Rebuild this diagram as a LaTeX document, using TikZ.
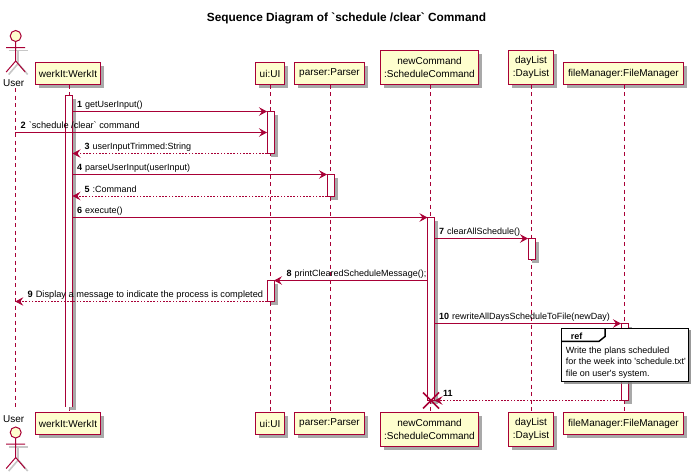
\documentclass[tikz,border=0pt]{standalone}
\usepackage{fontspec}
\setmainfont{Liberation Sans}[Ligatures=TeXOff]
\usetikzlibrary{arrows.meta,shadows}
\definecolor{pumlred}{HTML}{A80036}
\definecolor{pumlfill}{HTML}{FEFECE}
\tikzset{
  softshadow/.style={drop shadow={shadow xshift=3.5pt,shadow yshift=-3.5pt,fill=black!45,opacity=.75}},
  part/.style={draw=pumlred,fill=pumlfill,line width=1pt,inner sep=0pt,outer sep=0pt,align=center,
    font=\fontsize{10}{12.3}\selectfont,softshadow},
  act/.style={fill=white,inner sep=0pt,outer sep=0pt,minimum width=7pt,softshadow},
  actb/.style={act,draw=pumlred,line width=1pt},
  life/.style={draw=pumlred,line width=.8pt,dash pattern=on 4pt off 3.5pt},
  msg/.style={draw=pumlred,line width=.9pt,-{Stealth[length=8pt,width=8.5pt,inset=3pt,fill=pumlred]}},
  ret/.style={msg,dash pattern=on 1.6pt off 1.6pt},
  mlab/.style={anchor=base west,inner sep=0pt,font=\fontsize{9}{11}\selectfont},
  actorlab/.style={inner sep=0pt,font=\fontsize{10}{12}\selectfont},
  actor/.pic={
    \begin{scope}[shift={(2.5,-2.5)},line width=1.6pt]
      \draw[black!22] (0,-12) -- (0,-25); \draw[black!22] (-9.5,-12) -- (9.5,-12);
      \draw[black!22] (0,-25) -- (-9.5,-36); \draw[black!22] (0,-25) -- (9.5,-36);
    \end{scope}
    \draw[pumlred,fill=pumlfill,line width=1pt] (0,0) circle[radius=5.5];
    \draw[pumlred,line width=1pt] (0,-5.5) -- (0,-25) (-9.5,-11.7) -- (9.5,-11.7)
      (0,-25) -- (-9.5,-36) (0,-25) -- (9.5,-36);
  },
}
\begin{document}
\begin{tikzpicture}[x=1pt,y=-1pt]
\useasboundingbox (0,0) rectangle (692,471);
% message rows
\coordinate (y1) at (0,111.5);
\coordinate (y2) at (0,132.5);
\coordinate (y3) at (0,153.5);
\coordinate (y4) at (0,174.5);
\coordinate (y5) at (0,196);
\coordinate (y6) at (0,217.5);
\coordinate (y7) at (0,238.5);
\coordinate (y8) at (0,280.5);
\coordinate (y9) at (0,301.5);
\coordinate (y10) at (0,323.5);
\coordinate (y11) at (0,400.5);
% lifeline columns
\coordinate (lU) at (15.3,0);
\coordinate (lW) at (69.5,0);
\coordinate (lI) at (270.5,0);
\coordinate (lP) at (330.5,0);
\coordinate (lN) at (430.5,0);
\coordinate (lD) at (531.5,0);
\coordinate (lF) at (624.5,0);
\coordinate (uT) at (15.3,88);
\coordinate (uB) at (15.3,409);

\node[font=\fontsize{11.85}{14}\selectfont\bfseries,inner sep=0pt] (title) at (346.5,18) {Sequence Diagram of `schedule /clear` Command};

% participants top
\node[part,minimum width=65pt,minimum height=22pt] (wT) at (68,73.5) {werkIt:WerkIt};
\node[part,minimum width=29pt,minimum height=22pt] (iT) at (270,73.5) {ui:UI};
\node[part,minimum width=70pt,minimum height=22pt] (pT) at (329.5,73.5) {parser:Parser};
\node[part,minimum width=98pt,minimum height=34pt] (nT) at (429.5,67.5) {newCommand\\:ScheduleCommand};
\node[part,minimum width=45pt,minimum height=34pt] (dT) at (531,67.5) {dayList\\:DayList};
\node[part,minimum width=120pt,minimum height=22pt] (fT) at (623.5,73.5) {fileManager:FileManager};
% participants bottom
\node[part,minimum width=65pt,minimum height=22pt] (wB) at (68,423.5) {werkIt:WerkIt};
\node[part,minimum width=29pt,minimum height=22pt] (iB) at (270,423.5) {ui:UI};
\node[part,minimum width=70pt,minimum height=22pt] (pB) at (329.5,423.5) {parser:Parser};
\node[part,minimum width=98pt,minimum height=34pt] (nB) at (429.5,429.5) {newCommand\\:ScheduleCommand};
\node[part,minimum width=45pt,minimum height=34pt] (dB) at (531,429.5) {dayList\\:DayList};
\node[part,minimum width=120pt,minimum height=22pt] (fB) at (623.5,423.5) {fileManager:FileManager};

% actors
\pic[yscale=-1] at (15.7,36) {actor};
\node[actorlab] (uLT) at (13.6,83) {User};
\node[actorlab] (uLB) at (13.6,419) {User};
\pic[yscale=-1] at (15.7,432.5) {actor};

% lifelines
\draw[life] (uT) -- (uB);
\draw[life] (lW |- wT.south) -- (lW |- wB.north);
\draw[life] (lI |- iT.south) -- (lI |- iB.north);
\draw[life] (lP |- pT.south) -- (lP |- pB.north);
\draw[life] (lN |- nT.south) -- (lN |- nB.north);
\draw[life] (lD |- dT.south) -- (lD |- dB.north);
\draw[life] (lF |- fT.south) -- (lF |- fB.north);

% activations
\node[act,minimum height=311pt] (wA) at (69,251) {};
\draw[pumlred,line width=1pt] (wA.south west) -- (wA.north west) -- (wA.north east) -- (wA.south east);
\node[actb,minimum height=42pt] (iA1) at (270.5,132.5) {};
\node[actb,minimum height=22pt] (pA) at (330.5,185.5) {};
\node[actb,minimum height=182.5pt] (nA) at (431,308.75) {};
\node[actb,minimum height=21pt] (dA) at (531.5,249) {};
\node[actb,minimum height=21pt] (iA2) at (270.5,291) {};
\node[actb,minimum height=77pt] (fA) at (624.5,362) {};

% messages
\draw[msg] (wA.east |- y1) -- (iA1.west |- y1);
\draw[msg] (lU |- y2) -- (iA1.west |- y2);
\draw[ret] (iA1.west |- y3) -- (wA.east |- y3);
\draw[msg] (wA.east |- y4) -- (pA.west |- y4);
\draw[ret] (pA.west |- y5) -- (wA.east |- y5);
\draw[msg] (wA.east |- y6) -- (nA.west |- y6);
\draw[msg] (nA.east |- y7) -- (dA.west |- y7);
\draw[msg] (nA.west |- y8) -- (iA2.east |- y8);
\draw[ret] (iA2.west |- y9) -- (lU |- y9);
\draw[msg] (nA.east |- y10) -- (fA.west |- y10);
\draw[ret] (fA.west |- y11) -- (nA.east |- y11);

% labels
\node[mlab] (t1) at (77,107.3) {\textbf{1}\hspace{3pt}getUserInput()};
\node[mlab] (t2) at (20.5,128.4) {\fontsize{9.2}{11}\selectfont\textbf{2}\hspace{3pt}`schedule /clear` command};
\node[mlab] (t3) at (84.3,149.4) {\textbf{3}\hspace{3pt}userInputTrimmed:String};
\node[mlab] (t4) at (77,170.4) {\textbf{4}\hspace{3pt}parseUserInput(userInput)};
\node[mlab] (t5) at (84.3,192) {\textbf{5}\hspace{3pt}:Command};
\node[mlab] (t6) at (77,213.4) {\textbf{6}\hspace{3pt}execute()};
\node[mlab] (t7) at (439,234.4) {\textbf{7}\hspace{3pt}clearAllSchedule()};
\node[mlab] (t8) at (286.5,276.4) {\textbf{8}\hspace{3pt}printClearedScheduleMessage();};
\node[mlab] (t9) at (27.5,297.4) {\fontsize{9.23}{11}\selectfont\textbf{9}\hspace{3pt}Display a message to indicate the process is completed};
\node[mlab] (t10) at (439,319.4) {\textbf{10}\hspace{3pt}rewriteAllDaysScheduleToFile(newDay)};
\node[mlab] (t11) at (443,396.4) {\textbf{11}};

% destroy mark
\coordinate (xx) at (431,400.5);
\draw[pumlred,line width=1.6pt] ([xshift=-8pt,yshift=-8pt]xx) -- ([xshift=8pt,yshift=8pt]xx)
  ([xshift=-8pt,yshift=8pt]xx) -- ([xshift=8pt,yshift=-8pt]xx);

% ref frame
\node[draw=black,fill=white,line width=1.5pt,inner sep=0pt,outer sep=0pt,minimum width=127pt,minimum height=53.4pt,
  drop shadow={shadow xshift=2pt,shadow yshift=-2pt,fill=black!50,opacity=.8}] (refbox) at (625.2,355) {};
\coordinate (tabA) at (605,328.3);
\coordinate (tabB) at (605,336.5);
\coordinate (tabC) at (599,341.3);
\coordinate (tabD) at (561.7,341.3);
\draw[black,line width=1.5pt] (tabA) -- (tabB) -- (tabC) -- (tabD);
\node[anchor=base west,inner sep=0pt,font=\fontsize{9}{11}\selectfont\bfseries] (reft) at (570.7,339.5) {ref};
\node[anchor=north west,inner sep=0pt,align=left,font=\fontsize{9}{11.5}\selectfont] (refl) at (565.7,346.5) {Write the plans scheduled\\for the week into 'schedule.txt'\\file on user's system.};
\end{tikzpicture}
\end{document}
